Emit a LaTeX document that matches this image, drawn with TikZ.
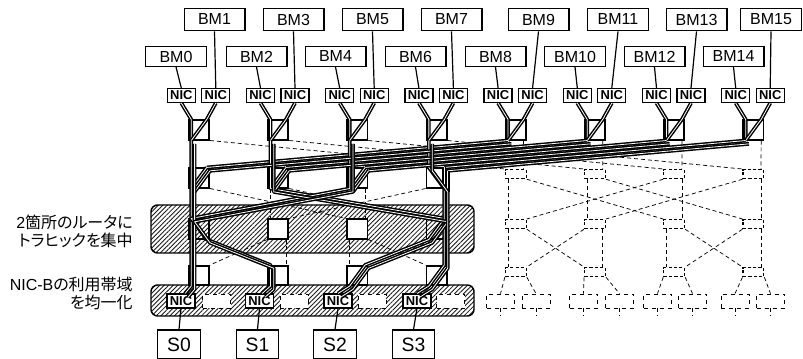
\documentclass[tikz,border=0pt]{standalone}
\usepackage{fontspec}
\setmainfont{Liberation Sans}
\newfontfamily\jp[RawFeature=+palt]{Noto Sans CJK JP}
\usetikzlibrary{patterns.meta}

\begin{document}
\begin{tikzpicture}[x=0.75pt,y=-0.75pt,
    bm/.style={draw,line width=0.9pt,minimum width=45.6pt,inner sep=0pt,font=\fontsize{12}{13}\selectfont},
    nic/.style={draw,line width=1pt,fill=white,minimum width=21pt,minimum height=10.3pt,inner sep=0pt,
                font=\fontsize{9.7}{11}\selectfont\bfseries},
    dnic/.style={draw,dashed,line width=0.6pt,fill=white,minimum width=21pt,minimum height=10.5pt,inner sep=0pt},
    sw/.style={draw,line width=1.4pt,fill=white,minimum width=15.2pt,minimum height=14.4pt,inner sep=0pt},
    dsw/.style={draw,line width=0.9pt,dash pattern=on 2.4pt off 1.6pt,fill=white,minimum width=15.6pt,
                minimum height=6.8pt,inner sep=0pt,anchor=north},
    srv/.style={draw,line width=0.9pt,minimum width=32pt,minimum height=21.6pt,inner sep=0pt,
                font=\fontsize{14.5}{16}\selectfont},
    net/.style={line width=0.55pt,dash pattern=on 3pt off 2.2pt},
    traffic/.style={double=white,double distance=0.6pt,line width=1.1pt,line join=round},
    band/.style={draw,line width=1.1pt,rounded corners=5pt,
                 pattern={Lines[angle=45,distance=2.4pt,line width=0.65pt]},pattern color=black!90},
    note/.style={anchor=east,align=right,inner sep=0pt,font=\fontsize{12}{13}\selectfont}]
  \useasboundingbox (0,0) rectangle (803,359);

  % hatched bands
  \draw[band] (151,205) rectangle (474,253);
  \draw[band] (151,285) rectangle (474,316);

  % servers and their NICs
  \foreach \i/\x in {0/176,2/256.5,4/335.5,6/415.5,8/495.5,10/575,12/654.5,14/733.5}
    \node[bm,minimum height=14.8pt] (bm\i) at (\x,56.5) {BM\i};
  \foreach \i/\x in {1/214.5,3/293.5,5/372.5,7/451.5,9/538.5,11/618,13/696.5,15/771}
    \node[bm,minimum height=17pt] (bm\i) at (\x,19.5) {BM\i};
  \foreach \k [evaluate=\k as \x using 181.3+79.2*\k, evaluate=\k as \a using int(2*\k),
               evaluate=\k as \b using int(2*\k+1)] in {0,...,7} {
    \node[nic] (n\a) at (\x,95.5) {NIC};
    \node[nic] (n\b) at (\x+34.5,95.5) {NIC};
    \draw[line width=0.9pt] (bm\a.south) -- (n\a.north);
    \draw[line width=0.9pt] (bm\b.south) -- (n\b.north);
  }

  % switches
  \foreach \k [evaluate=\k as \x using 199+79.2*\k] in {0,...,7}
    \node[sw] (r1c\k) at (\x,130) {};
  \foreach \k [evaluate=\k as \x using 199+79.2*\k] in {0,...,3} {
    \node[sw] (r2c\k) at (\x,178) {};
    \node[sw] (r4c\k) at (\x,275.5) {};
  }
  \node[sw,fill=none] (r3c0) at (199,229) {};
  \node[sw] (r3c1) at (278.2,229) {};
  \node[sw] (r3c2) at (357.4,229) {};
  \node[sw,fill=none] (r3c3) at (436.6,229) {};
  \foreach \k [evaluate=\k as \x using 199+79.2*\k] in {4,...,7} {
    \node[dsw] (r2c\k) at (\x,169) {};
    \node[dsw] (r3c\k) at (\x,219) {};
    \node[dsw] (r4c\k) at (\x,267) {};
  }

  % butterfly links
  \foreach \r/\s/\a/\b in {1/2/0/4,1/2/1/5,1/2/2/6,1/2/3/7,2/3/0/2,2/3/1/3,2/3/4/6,2/3/5/7,
                           3/4/0/1,3/4/2/3,3/4/4/5,3/4/6/7} {
    \draw[net] ([xshift=2.5pt]r\r c\a.south west) -- ([xshift=2.5pt]r\s c\a.north west);
    \draw[net] ([xshift=-2.5pt]r\r c\b.south east) -- ([xshift=-2.5pt]r\s c\b.north east);
    \draw[net] (r\r c\a.south east) -- (r\s c\b.north west);
    \draw[net] (r\r c\b.south west) -- (r\s c\a.north east);
  }

  % storage side
  \foreach \k/\xa/\xb in {0/181/216.5,1/259.5/294,2/338/372,3/417/450.5} {
    \node[nic] (bl\k) at (\xa,301) {NIC};
    \node[dnic] (br\k) at (\xb,301) {};
  }
  \foreach \k/\xa/\xb in {4/500.5/536,5/583.5/619.5,6/657.5/692.5,7/735/770.5} {
    \node[dnic] (bl\k) at (\xa,301) {};
    \node[dnic] (br\k) at (\xb,301) {};
    \draw[net] (r4c\k.south west) -- (bl\k.north);
    \draw[net] (r4c\k.south east) -- (br\k.north);
    \draw[net] (bl\k.south) -- ++(0,8);
    \draw[net] (br\k.south) -- ++(0,8);
  }
  \foreach \k/\x in {0/179,1/257.5,2/335,3/413.5} {
    \node[srv] (s\k) at (\x,344.5) {S\k};
    \draw[line width=0.9pt] (s\k.north) -- (bl\k.south);
  }

  % traffic
  \foreach \k [evaluate=\k as \a using int(2*\k), evaluate=\k as \b using int(2*\k+1)] in {0,...,7} {
    \draw[traffic] (n\a.south) -- ([xshift=2.5pt]r1c\k.north west) -- ([xshift=2.5pt]r1c\k.south west);
    \draw[traffic] (n\b.south) -- ([xshift=-2.5pt]r1c\k.north east) -- ([xshift=2.5pt]r1c\k.south west);
  }
  \foreach \o in {0,2.5} {
    \begin{scope}[transform canvas={shift={(\o pt,-\o pt)}}]
      \foreach \k [evaluate=\k as \j using int(\k-4)] in {4,...,7}
        \draw[traffic] ([xshift=2.5pt]r1c\k.south west) -- ([xshift=-2.5pt]r2c\j.north east);
      \foreach \j in {0,1,2}
        \draw[traffic] ([xshift=-2.5pt]r2c\j.north east) -- ([xshift=2.5pt]r2c\j.south west);
      \draw[traffic] ([xshift=-2.5pt]r2c3.north east) -- ([xshift=-2.5pt]r2c3.south east);
      \draw[traffic] ([xshift=2.5pt]r1c0.south west) -- ([xshift=2.5pt]r4c0.south west) -- ([xshift=3pt]bl0.north);
      \draw[traffic] ([xshift=2.5pt]r1c1.south west) -- ([xshift=2.5pt]r2c1.south west)
        -- ([xshift=-2.5pt]r3c3.north east) -- ([xshift=2.5pt]r3c3.south west)
        -- ([xshift=-2.5pt]r4c2.north east) -- ([xshift=2.5pt]r4c2.south west) -- (bl2.north);
      \draw[traffic] ([xshift=2.5pt]r1c2.south west) -- ([xshift=2.5pt]r2c2.south west)
        -- ([xshift=2.5pt]r3c0.north west) -- ([xshift=-2.5pt]r3c0.south east)
        -- ([xshift=2.5pt]r4c1.north west) -- ([xshift=2.5pt]r4c1.south west) -- ([xshift=2pt]bl1.north);
      \draw[traffic] ([xshift=2.5pt]r1c3.south west) -- ([xshift=2.5pt]r2c3.north west)
        -- ([xshift=-2.5pt]r2c3.south east) -- ([xshift=-2.5pt]r4c3.north east)
        -- ([xshift=2.5pt]r4c3.south west) -- (bl3.north);
    \end{scope}
  }

  % notes
  \node[note] (conc) at (133,231.5) {2{\jp 箇所のルータに}\\{\jp トラヒックを集中}};
  \node[note] (even) at (133,293.5) {NIC-B{\jp の利用帯域}\\{\jp を均一化}};
\end{tikzpicture}
\end{document}
